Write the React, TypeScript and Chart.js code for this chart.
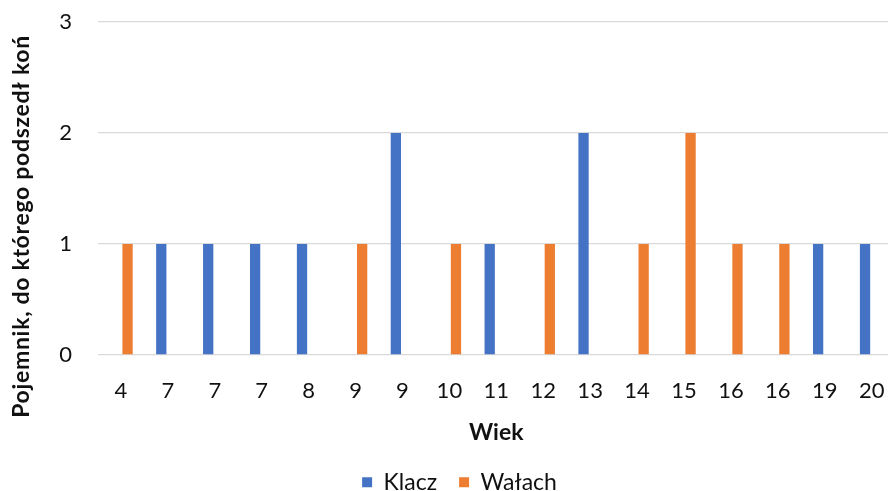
import React, { useEffect, useRef } from 'react';
import { Chart, registerables } from 'chart.js';

Chart.register(...registerables);

// Horse age on the x axis, one column per animal
const categories = ['4', '7', '7', '7', '8', '9', '9', '10', '11', '12', '13', '14', '15', '16', '16', '19', '20'];
const klaczValues = [null, 1, 1, 1, 1, null, 2, null, 1, null, 2, null, null, null, null, 1, 1];
const walachValues = [1, null, null, null, null, 1, null, 1, null, 1, null, 1, 2, 1, 1, null, null];
const seriesNames = ['Klacz', 'Wałach'];
const seriesColors = ['#4472C4', '#ED7D31'];
const xAxisTitle = 'Wiek';
const yAxisTitle = 'Pojemnik, do którego podszedł koń';
const yMin = 0;
const yMax = 3;
const yStep = 1;

const FONT = 'Lato, "Open Sans", sans-serif';
const TEXT = '#111111';
const GRID = '#d9d9d9';

// Vertical axis title, centred on the whole chart height rather than the plot
const yTitlePlugin = {
  id: 'sideTitle',
  afterDraw(chart: any) {
    const ctx = chart.ctx;
    ctx.save();
    ctx.translate(21.5, 226.5);
    ctx.rotate(-Math.PI / 2);
    ctx.font = `bold 23px ${FONT}`;
    try {
      ctx.letterSpacing = '0.7px';
    } catch (e) {
      /* canvas without letterSpacing support */
    }
    ctx.fillStyle = TEXT;
    ctx.textAlign = 'center';
    ctx.textBaseline = 'middle';
    ctx.fillText(yAxisTitle, 0, 0);
    ctx.restore();
  },
};

export default function App() {
  const canvasRef = useRef<HTMLCanvasElement | null>(null);

  useEffect(() => {
    if (!canvasRef.current) return;
    const chart = new Chart(canvasRef.current, {
      type: 'bar',
      data: {
        labels: categories,
        datasets: [
          {
            label: seriesNames[0],
            data: klaczValues,
            backgroundColor: seriesColors[0],
            borderWidth: 0,
          },
          {
            label: seriesNames[1],
            data: walachValues,
            backgroundColor: seriesColors[1],
            borderWidth: 0,
          },
        ],
      },
      options: {
        responsive: false,
        animation: false,
        devicePixelRatio: 1,
        categoryPercentage: 0.5624,
        barPercentage: 0.78,
        layout: { padding: { top: 22, left: 12, right: 0, bottom: -12.7 } },
        plugins: {
          tooltip: { enabled: false },
          legend: {
            position: 'bottom',
            labels: {
              boxWidth: 10,
              boxHeight: 10,
              padding: 22,
              color: TEXT,
              font: { family: FONT, size: 23 },
            },
          },
        },
        scales: {
          x: {
            grid: { display: false, drawTicks: false },
            border: { display: false },
            ticks: {
              color: TEXT,
              font: { family: FONT, size: 22 },
              padding: 22.6,
              maxRotation: 0,
              autoSkip: false,
            },
            title: {
              display: true,
              text: xAxisTitle,
              color: TEXT,
              font: { family: FONT, size: 23, weight: 'bold' },
              padding: { top: 0, bottom: 2.5 },
            },
            afterFit(scale: any) {
              scale.height = 93.7;
            },
          },
          y: {
            min: yMin,
            max: yMax,
            ticks: {
              stepSize: yStep,
              color: TEXT,
              font: { family: FONT, size: 22 },
              padding: 0,
            },
            grid: {
              color: GRID,
              lineWidth: 1.3,
              drawTicks: true,
              tickLength: 25.5,
              tickColor: 'rgba(0,0,0,0)',
            },
            border: { display: false },
            afterFit(scale: any) {
              scale.width = 85.5;
            },
          },
        },
      },
      plugins: [yTitlePlugin],
    } as any);
    return () => chart.destroy();
  }, []);

  return (
    <div
      style={{
        position: 'fixed',
        left: 0,
        top: 0,
        width: 888,
        height: 491,
        overflow: 'hidden',
        background: '#ffffff',
      }}
    >
      <canvas ref={canvasRef} width={907} height={491} style={{ display: 'block' }} />
    </div>
  );
}
